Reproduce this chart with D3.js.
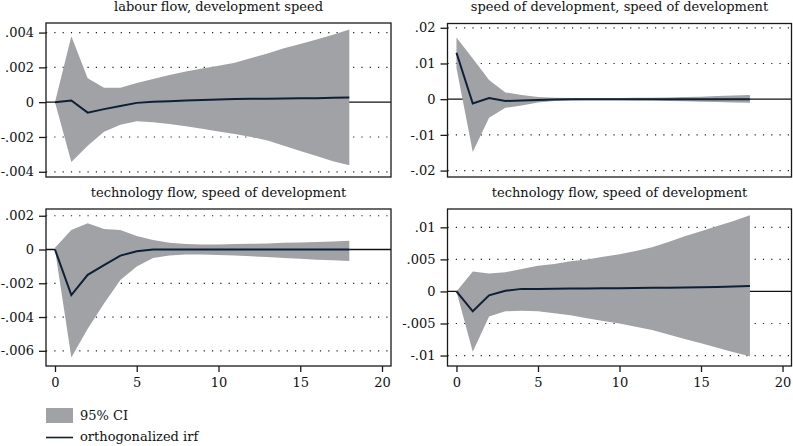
<!DOCTYPE html>
<html>
<head>
<meta charset="utf-8">
<script src="https://cdn.jsdelivr.net/npm/d3@7"></script>
<style>
  html, body { margin: 0; padding: 0; background: #fff; }
  svg { display: block; }
  text { font-family: "DejaVu Serif", serif; fill: #111; }
</style>
</head>
<body>
<svg id="chart" width="793" height="446"></svg>
<script>
// ---- data ----
const steps = [0,1,2,3,4,5,6,7,8,9,10,11,12,13,14,15,16,17,18];

const titles = [
  "labour flow, development speed",
  "speed of development, speed of development",
  "technology flow, speed of development",
  "technology flow, speed of development"
];

// panel 1: labour flow -> development speed
const irf1 = [0, 0.0001, -0.0006, -0.0004, -0.00022, -0.00004, 0.00002, 0.00006, 0.0001, 0.00013, 0.00016, 0.00018, 0.0002, 0.0002, 0.00021, 0.00022, 0.00023, 0.00025, 0.00027];
const hi1  = [0, 0.00379, 0.00137, 0.00083, 0.00083, 0.0011, 0.00133, 0.00156, 0.00177, 0.00194, 0.0021, 0.00227, 0.00254, 0.0028, 0.0031, 0.00335, 0.0036, 0.00387, 0.00417];
const lo1  = [0, -0.00344, -0.0025, -0.0017, -0.0013, -0.0011, -0.00115, -0.00125, -0.00138, -0.00152, -0.00168, -0.00183, -0.002, -0.0022, -0.0025, -0.0028, -0.0031, -0.0034, -0.00363];

// panel 2: speed of development -> speed of development
const irf2 = [0.013, -0.0012, 0.0003, -0.0005, -0.0004, -0.0002, -0.0001, 0, 0, 0, 0, 0, 0, 0, 0, 0, 0, 0, 0];
const hi2  = [0.0173, 0.0114, 0.0054, 0.0019, 0.0012, 0.0006, 0.0004, 0.0003, 0.0003, 0.0003, 0.0003, 0.0004, 0.0004, 0.0005, 0.0006, 0.0007, 0.0009, 0.001, 0.0012];
const lo2  = [0.0087, -0.0148, -0.0052, -0.0024, -0.0018, -0.0009, -0.0005, -0.0004, -0.0003, -0.0003, -0.0003, -0.0004, -0.0004, -0.0005, -0.0006, -0.0007, -0.0008, -0.0009, -0.001];

// panel 3: technology flow -> speed of development (left)
const irf3 = [0, -0.0027, -0.0015, -0.00092, -0.00036, -0.0001, 0, 0, 0, 0, 0, 0, 0, 0, 0, 0, 0, 0, 0];
const hi3  = [0.0001, 0.00116, 0.00156, 0.00122, 0.00116, 0.0008, 0.00056, 0.0004, 0.00032, 0.0003, 0.0003, 0.00032, 0.00034, 0.00036, 0.0004, 0.00042, 0.00045, 0.00048, 0.00052];
const lo3  = [0, -0.0064, -0.0047, -0.0032, -0.0018, -0.001, -0.0005, -0.00035, -0.0003, -0.0003, -0.00032, -0.00035, -0.0004, -0.00045, -0.0005, -0.00055, -0.0006, -0.00063, -0.00068];

// panel 4: technology flow -> speed of development (right)
const irf4 = [0, -0.0031, -0.0006, 0.0001, 0.0004, 0.0004, 0.00042, 0.00044, 0.00046, 0.00048, 0.0005, 0.00053, 0.00056, 0.00059, 0.00063, 0.00067, 0.00071, 0.00077, 0.00083];
const hi4  = [0, 0.0031, 0.0028, 0.003, 0.0035, 0.004, 0.0043, 0.0047, 0.005, 0.0054, 0.0058, 0.0063, 0.0069, 0.0077, 0.0086, 0.0094, 0.0102, 0.011, 0.0119];
const lo4  = [0, -0.0094, -0.0039, -0.0031, -0.003, -0.0031, -0.0034, -0.0037, -0.0042, -0.0046, -0.005, -0.0055, -0.006, -0.0067, -0.0074, -0.0081, -0.0088, -0.0095, -0.0101];

const yTicks1 = [-0.004, -0.002, 0, 0.002, 0.004];
const yTicks2 = [-0.02, -0.01, 0, 0.01, 0.02];
const yTicks3 = [-0.006, -0.004, -0.002, 0, 0.002];
const yTicks4 = [-0.01, -0.005, 0, 0.005, 0.01];
const yDomains = [[-0.0043, 0.00455], [-0.0218, 0.0212], [-0.0069, 0.0024], [-0.01163, 0.01286]];
const xTicks = [0, 5, 10, 15, 20];
const legendLabels = ["95% CI", "orthogonalized irf"];

// ---- layout ----
const svg = d3.select("#chart");
const bandColor = "#a1a2a6";
const lineColor = "#0e1f36";
const fs = 13;
const fmt = v => {
  if (v === 0) return "0";
  let s = String(+v.toPrecision(6));
  return s.replace(/^(-?)0\./, "$1.");
};

const panels = [
  {x0: 46,  x1: 391,  y0: 23,  y1: 177, irf: irf1, lo: lo1, hi: hi1, ticks: yTicks1, xaxis: false},
  {x0: 447.5, x1: 791.5, y0: 23.5, y1: 177, irf: irf2, lo: lo2, hi: hi2, ticks: yTicks2, xaxis: false},
  {x0: 46,  x1: 391,  y0: 209, y1: 366, irf: irf3, lo: lo3, hi: hi3, ticks: yTicks3, xaxis: true},
  {x0: 447.5, x1: 791.5, y0: 209, y1: 366, irf: irf4, lo: lo4, hi: hi4, ticks: yTicks4, xaxis: true}
];

panels.forEach((p, i) => {
  const x = d3.scaleLinear().domain([-0.55, 20.55]).range([p.x0, p.x1]);
  const y = d3.scaleLinear().domain(yDomains[i]).range([p.y1, p.y0]);
  const g = svg.append("g");

  // title
  g.append("text")
    .attr("x", (p.x0 + p.x1) / 2)
    .attr("y", p.y0 - 12.5)
    .attr("text-anchor", "middle")
    .attr("font-size", fs)
    .text(titles[i]);

  // grid (dotted)
  g.selectAll("line.grid").data(p.ticks.filter(t => t !== 0)).join("line")
    .attr("class", "grid")
    .attr("x1", p.x0).attr("x2", p.x1)
    .attr("y1", d => y(d)).attr("y2", d => y(d))
    .attr("stroke", "#222").attr("stroke-width", 1.2)
    .attr("stroke-dasharray", "1.2,7.1");

  // zero line
  g.append("line")
    .attr("x1", p.x0).attr("x2", p.x1)
    .attr("y1", y(0)).attr("y2", y(0))
    .attr("stroke", "#111").attr("stroke-width", 1.3);

  // confidence band
  const area = d3.area()
    .x((d, j) => x(steps[j]))
    .y0((d, j) => y(p.lo[j]))
    .y1((d, j) => y(p.hi[j]));
  g.append("path").datum(steps)
    .attr("d", area)
    .attr("fill", bandColor);

  // irf line
  const line = d3.line()
    .x((d, j) => x(steps[j]))
    .y(d => y(d));
  g.append("path").datum(p.irf)
    .attr("d", line)
    .attr("fill", "none")
    .attr("stroke", lineColor)
    .attr("stroke-width", 2)
    .attr("stroke-linejoin", "miter");

  // frame
  g.append("rect")
    .attr("x", p.x0).attr("y", p.y0)
    .attr("width", p.x1 - p.x0).attr("height", p.y1 - p.y0)
    .attr("fill", "none").attr("stroke", "#1a1a1a").attr("stroke-width", 1.3);

  // y axis
  const yAxis = d3.axisLeft(y).tickValues(p.ticks).tickFormat(fmt).tickSize(7).tickPadding(5);
  const ya = g.append("g").attr("transform", `translate(${p.x0},0)`).call(yAxis);
  ya.select(".domain").remove();
  ya.selectAll(".tick line").attr("stroke", "#1a1a1a").attr("stroke-width", 1.3);
  ya.selectAll(".tick text").attr("font-size", fs).attr("fill", "#111");

  if (p.xaxis) {
    const xAxis = d3.axisBottom(x).tickValues(xTicks).tickFormat(d3.format("d")).tickSize(6).tickPadding(6);
    const xa = g.append("g").attr("transform", `translate(0,${p.y1})`).call(xAxis);
    xa.select(".domain").remove();
    xa.selectAll(".tick line").attr("stroke", "#1a1a1a").attr("stroke-width", 1.3);
    xa.selectAll(".tick text").attr("font-size", fs).attr("fill", "#111");
  }
});

// legend
const lg = svg.append("g");
lg.append("rect").attr("x", 46).attr("y", 408).attr("width", 27).attr("height", 15).attr("fill", bandColor);
lg.append("text").attr("x", 80).attr("y", 420).attr("font-size", fs).text(legendLabels[0]);
lg.append("line").attr("x1", 46).attr("x2", 73).attr("y1", 437.5).attr("y2", 437.5)
  .attr("stroke", lineColor).attr("stroke-width", 1.6);
lg.append("text").attr("x", 80).attr("y", 441).attr("font-size", fs).text(legendLabels[1]);
</script>
</body>
</html>
